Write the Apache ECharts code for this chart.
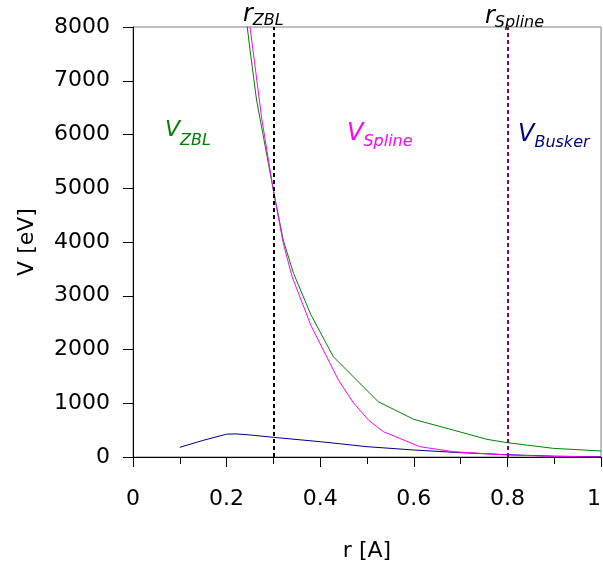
<!DOCTYPE html>
<html>
<head>
<meta charset="utf-8">
<script src="https://cdn.jsdelivr.net/npm/echarts@6/dist/echarts.min.js"></script>
<style>
html, body { margin: 0; padding: 0; background: #fff; }
#chart { width: 603px; height: 561px; }
</style>
</head>
<body>
<div id="chart"></div>
<script>
// ZBL potential
var zblR = [0.22, 0.25, 0.264, 0.3, 0.321, 0.343, 0.38, 0.428, 0.524, 0.6, 0.684, 0.756, 0.8, 0.898, 1.0];
var zblV = [9700, 7580, 6642, 4960, 4037, 3418, 2650, 1866, 1029, 700, 502, 329, 266, 161, 112];

// spline
var splineR = [0.22, 0.25, 0.275, 0.3, 0.321, 0.34, 0.38, 0.421, 0.439, 0.47, 0.503, 0.535, 0.613, 0.684, 0.8, 0.9, 1.0];
var splineV = [10500, 8000, 6300, 4960, 3980, 3355, 2450, 1743, 1433, 1020, 688, 471, 192, 99, 37, 12, 0];

// Busker
var buskerR = [0.1, 0.15, 0.2, 0.22, 0.25, 0.3, 0.4, 0.5, 0.6, 0.7, 0.8, 0.9, 1.0];
var buskerV = [180, 310, 425, 430, 410, 366, 285, 192, 130, 80, 43, 15, 5];

// cut-off radii
var cutR = [0.3, 0.8];

function pairs(xs, ys) {
    return xs.map(function (x, i) { return [x, ys[i]]; });
}

var myChart = echarts.init(document.getElementById('chart'));

var FONT = 'DejaVu Sans, sans-serif';

// rich text for graphic labels (zrender style -> fill)
function subRich(color, mainSize, drop) {
    return {
        m: { fontFamily: FONT, fontStyle: 'italic', fontSize: mainSize, fill: color, verticalAlign: 'bottom', padding: [0, 0, drop, 0] },
        s: { fontFamily: FONT, fontStyle: 'italic', fontSize: 16, fill: color, verticalAlign: 'bottom' }
    };
}

function annot(x, y, main, sub, color, mainSize, drop) {
    return {
        type: 'text',
        x: x,
        y: y,
        z: 100,
        style: {
            text: '{m|' + main + '}{s|' + sub + '}',
            rich: subRich(color, mainSize, drop),
            verticalAlign: 'bottom'
        }
    };
}

var option = {
    animation: false,
    grid: {
        left: 133,
        right: 2,
        top: 27,
        bottom: 104,
        containLabel: false,
        outerBoundsMode: 'none',
        show: true,
        borderColor: '#808080',
        borderWidth: 1
    },
    xAxis: {
        type: 'value',
        min: 0,
        max: 1,
        interval: 0.2,
        name: 'r [A]',
        nameLocation: 'middle',
        nameGap: 83,
        nameTextStyle: { fontFamily: FONT, fontSize: 22, color: '#000' },
        axisLine: { lineStyle: { color: '#000', width: 1 } },
        axisTick: { length: 10, lineStyle: { color: '#000' } },
        minorTick: { show: true, splitNumber: 2, length: 7, lineStyle: { color: '#000' } },
        splitLine: { show: false },
        axisLabel: { fontFamily: FONT, fontSize: 22, color: '#000', margin: 31, alignMaxLabel: 'right' }
    },
    yAxis: {
        type: 'value',
        min: 0,
        max: 8000,
        interval: 1000,
        name: 'V [eV]',
        nameLocation: 'middle',
        nameGap: 95,
        nameTextStyle: { fontFamily: FONT, fontSize: 22, color: '#000' },
        axisLine: { show: true, lineStyle: { color: '#000', width: 1 } },
        axisTick: { show: true, length: 10, lineStyle: { color: '#000' } },
        splitLine: { show: false },
        axisLabel: {
            fontFamily: FONT, fontSize: 22, color: '#000', margin: 23,
            formatter: function (v) { return String(v); }
        }
    },
    series: [{
        name: 'ZBL',
        type: 'line',
        symbol: 'none',
        data: pairs(zblR, zblV),
        lineStyle: { color: '#008000', width: 1 },
        z: 3,
        markLine: {
            silent: true,
            symbol: 'none',
            data: [{ xAxis: cutR[0] }],
            lineStyle: { color: '#000', width: 2, type: [4, 3] },
            label: { show: false }
        }
    }, {
        name: 'Spline',
        type: 'line',
        symbol: 'none',
        data: pairs(splineR, splineV),
        lineStyle: { color: '#ff00ff', width: 1 },
        z: 4,
        markLine: {
            silent: true,
            symbol: 'none',
            data: [{ xAxis: cutR[1] }],
            lineStyle: { color: '#800080', width: 2, type: [4, 3] },
            label: { show: false }
        }
    }, {
        name: 'Busker',
        type: 'line',
        symbol: 'none',
        data: pairs(buskerR, buskerV),
        lineStyle: { color: '#000080', width: 1 },
        z: 2
    }],
    graphic: [
        annot(243, 29, 'r', 'ZBL', '#000', 24, 2),
        annot(485, 31, 'r', 'Spline', '#000', 24, 2),
        annot(165, 149, 'V', 'ZBL', '#008000', 22, 8),
        annot(347, 150, 'V', 'Spline', '#ff00ff', 24, 4),
        annot(518, 151, 'V', 'Busker', '#000080', 24, 4)
    ]
};

myChart.setOption(option);
window.addEventListener('resize', function () {
    myChart.resize();
});
</script>
</body>
</html>
